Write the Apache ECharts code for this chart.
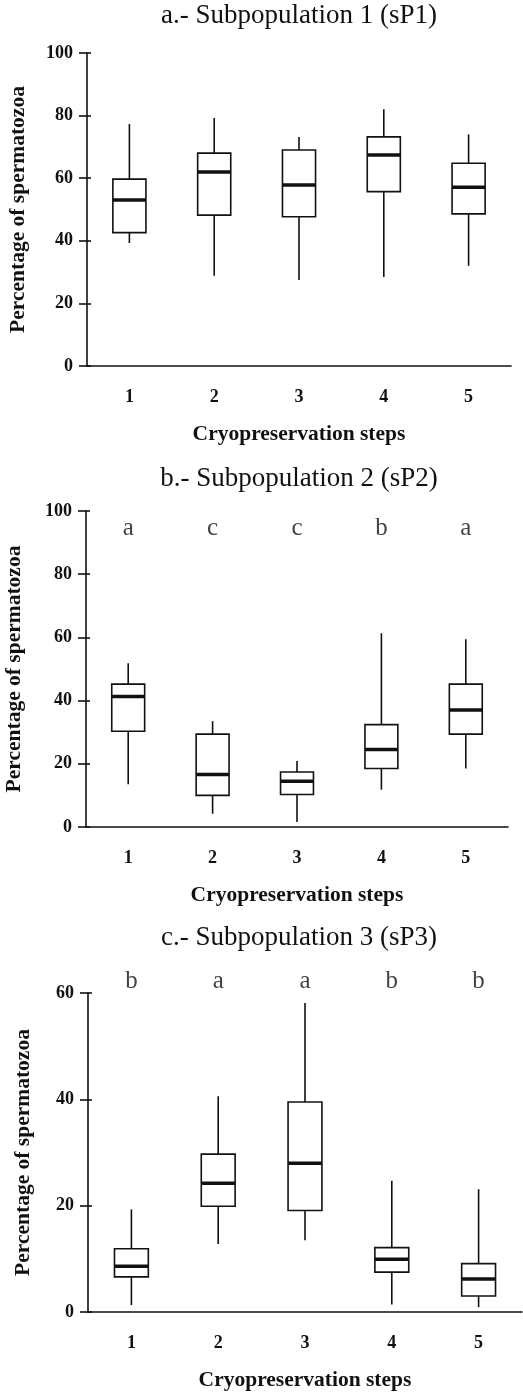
<!DOCTYPE html>
<html>
<head>
<meta charset="utf-8">
<script src="https://cdn.jsdelivr.net/npm/echarts@6/dist/echarts.min.js"></script>
<style>
  html, body { margin: 0; padding: 0; background: #fff; }
  #chart { width: 523px; height: 1392px; }
</style>
</head>
<body>
<div id="chart"></div>
<script>
var steps = ['1', '2', '3', '4', '5'];

// each box: [min, Q1, median, Q3, max]
var sp1 = [[39.3, 42.6, 53.0, 59.7, 77.3], [28.8, 48.2, 62.0, 68.0, 79.2],
  [27.5, 47.7, 57.8, 69.0, 73.2], [28.4, 55.7, 67.4, 73.2, 82.0], [32.0, 48.6, 57.1, 64.8, 74.0]];
var sp2 = [[13.5, 30.3, 41.3, 45.2, 51.8], [4.2, 10.0, 16.6, 29.4, 33.5],
  [1.6, 10.3, 14.5, 17.4, 20.9], [11.8, 18.5, 24.5, 32.4, 61.3], [18.5, 29.4, 37.0, 45.2, 59.4]];
var sp3 = [[1.3, 6.6, 8.6, 11.9, 19.3], [12.8, 19.9, 24.2, 29.7, 40.6],
  [13.5, 19.1, 28.0, 39.5, 58.1], [1.4, 7.5, 9.9, 12.1, 24.7], [0.9, 3.0, 6.2, 9.1, 23.1]];

// significance letters above the boxes
var sig2 = ['a', 'c', 'c', 'b', 'a'];
var sig3 = ['b', 'a', 'a', 'b', 'b'];

var titles = ['a.- Subpopulation 1 (sP1)', 'b.- Subpopulation 2 (sP2)', 'c.- Subpopulation 3 (sP3)'];
var yMax = [100, 100, 60];
var yStep = [20, 20, 20];

var FONT = 'Liberation Serif';
var INK = '#111';

var grids = [
  {left: 87, top: 53, width: 424, height: 313, outerBoundsMode: 'none', containLabel: false},
  {left: 86, top: 511, width: 422, height: 316, outerBoundsMode: 'none', containLabel: false},
  {left: 88, top: 993, width: 434, height: 319, outerBoundsMode: 'none', containLabel: false}
];
var titleTops = [2, 465, 924];
var yNameGap = [58, 61, 54];

function renderBox(params, api) {
  var x = api.value(0);
  var lo = api.coord([x, api.value(1)]);
  var q1 = api.coord([x, api.value(2)]);
  var md = api.coord([x, api.value(3)]);
  var q3 = api.coord([x, api.value(4)]);
  var hi = api.coord([x, api.value(5)]);
  var half = api.size([1, 0])[0] * 0.195;
  var thin = {stroke: INK, lineWidth: 1.6, fill: null};
  return {
    type: 'group',
    children: [
      {type: 'line', shape: {x1: lo[0], y1: lo[1], x2: q1[0], y2: q1[1]}, style: thin},
      {type: 'line', shape: {x1: q3[0], y1: q3[1], x2: hi[0], y2: hi[1]}, style: thin},
      {type: 'rect', shape: {x: q3[0] - half, y: q3[1], width: half * 2, height: q1[1] - q3[1]},
        style: {stroke: INK, lineWidth: 1.6, fill: '#fff'}},
      {type: 'line', shape: {x1: md[0] - half, y1: md[1], x2: md[0] + half, y2: md[1]},
        style: {stroke: INK, lineWidth: 3.5}}
    ]
  };
}

var option = {
  backgroundColor: '#fff',
  animation: false,
  title: [],
  grid: grids,
  xAxis: [],
  yAxis: [],
  series: []
};

var panels = [sp1, sp2, sp3];
var sigs = [null, sig2, sig3];
var letterY = [null, 94.4, 62.1];

for (var i = 0; i < 3; i++) {
  option.title.push({
    text: titles[i], left: 299, top: titleTops[i], textAlign: 'center', padding: 0,
    textStyle: {fontFamily: FONT, fontWeight: 'normal', fontSize: 27, color: INK}
  });
  // main x axis (outer ticks, labels, name)
  option.xAxis.push({
    type: 'category', gridIndex: i, data: steps, position: 'bottom',
    name: 'Cryopreservation steps', nameLocation: 'middle', nameGap: 57,
    nameTextStyle: {fontFamily: FONT, fontWeight: 'bold', fontSize: 21.5, color: INK},
    axisLine: {lineStyle: {color: INK, width: 1.6}},
    axisTick: {length: 6, lineStyle: {color: INK, width: 1.6}},
    axisLabel: {fontFamily: FONT, fontWeight: 'bold', fontSize: 18, color: INK, margin: 22},
    splitLine: {show: false}
  });
  // inner half of crossing ticks
  option.xAxis.push({
    type: 'category', gridIndex: i, data: steps, position: 'bottom', offset: 0,
    axisLine: {show: false},
    axisTick: {inside: true, length: 5, lineStyle: {color: INK, width: 1.6}},
    axisLabel: {show: false},
    splitLine: {show: false}
  });
  option.yAxis.push({
    type: 'value', gridIndex: i, min: 0, max: yMax[i], interval: yStep[i], position: 'left',
    name: 'Percentage of spermatozoa', nameLocation: 'middle', nameGap: yNameGap[i],
    nameTextStyle: {fontFamily: FONT, fontWeight: 'bold', fontSize: 21.5, color: INK},
    axisLine: {show: true, lineStyle: {color: INK, width: 1.6}},
    axisTick: {show: true, length: 8, lineStyle: {color: INK, width: 1.6}},
    axisLabel: {fontFamily: FONT, fontWeight: 'bold', fontSize: 18, color: INK, margin: 14},
    splitLine: {show: false}
  });
  option.yAxis.push({
    type: 'value', gridIndex: i, min: 0, max: yMax[i], interval: yStep[i], position: 'left', offset: 0,
    axisLine: {show: false},
    axisTick: {show: true, inside: true, length: 4, lineStyle: {color: INK, width: 1.6}},
    axisLabel: {show: false},
    splitLine: {show: false}
  });

  option.series.push({
    type: 'custom',
    xAxisIndex: i * 2, yAxisIndex: i * 2,
    renderItem: renderBox,
    data: panels[i].map(function (b, k) { return [k].concat(b); }),
    z: 3
  });

  if (sigs[i]) {
    (function (sig, ly) {
      option.series.push({
        type: 'scatter',
        xAxisIndex: i * 2, yAxisIndex: i * 2,
        clip: false, symbolSize: 0, silent: true,
        data: sig.map(function (s, k) { return [k, ly]; }),
        label: {
          show: true, position: 'inside',
          fontFamily: FONT, fontSize: 25, color: INK,
          formatter: function (p) { return sig[p.dataIndex]; }
        }
      });
    })(sigs[i], letterY[i]);
  }
}

var chart = echarts.init(document.getElementById('chart'), null, {renderer: 'canvas'});
chart.setOption(option);
</script>
</body>
</html>
